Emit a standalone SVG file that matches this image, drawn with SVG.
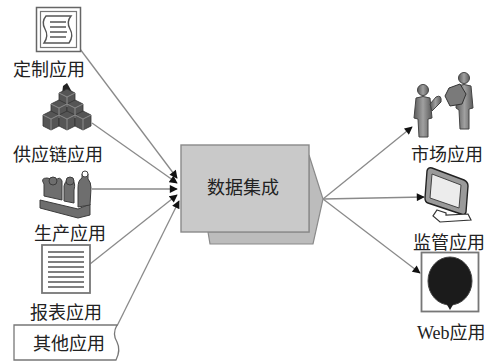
<svg xmlns="http://www.w3.org/2000/svg" width="502" height="364" viewBox="0 0 502 364">
  <defs>
    <style>
      .lbl { font-family: "Liberation Serif", "Noto Sans CJK SC", serif; font-size: 18px; fill: #222; }
      .link { stroke: #8a8a8a; stroke-width: 1.3; fill: none; marker-end: url(#head); }
      .gray { fill: #6e6e6e; stroke: #3c3c3c; stroke-width: 1; }
      .cube-side { fill: #555; stroke: #333; stroke-width: 0.8; }
      .fig { fill: url(#figure); stroke: #444; stroke-width: 1; }
    </style>
    <marker id="head" viewBox="0 0 10 10" refX="9" refY="5" markerWidth="9" markerHeight="8" markerUnits="userSpaceOnUse" orient="auto">
      <path d="M0,0 L10,5 L0,10 Z" fill="#111"/>
    </marker>
    <linearGradient id="figure" x1="0" y1="0" x2="1" y2="0">
      <stop offset="0" stop-color="#5a5a5a"/>
      <stop offset="0.5" stop-color="#a0a0a0"/>
      <stop offset="1" stop-color="#5a5a5a"/>
    </linearGradient>
  </defs>

  <rect width="502" height="364" fill="#ffffff"/>

  <!-- connectors -->
  <g id="connectors">
    <line class="link" x1="80" y1="49" x2="177" y2="178"/>
    <line class="link" x1="92" y1="123" x2="177" y2="183"/>
    <line class="link" x1="92" y1="189" x2="177" y2="189"/>
    <line class="link" x1="90" y1="264" x2="177" y2="195"/>
    <line class="link" x1="117" y1="326" x2="179" y2="201"/>
    <line class="link" x1="323" y1="199" x2="412" y2="127"/>
    <line class="link" x1="323" y1="199" x2="424" y2="197"/>
    <line class="link" x1="323" y1="199" x2="420" y2="273"/>
  </g>

  <!-- central hub -->
  <g id="integration">
    <path d="M208,232 L210,244 L313,244 L323,199 L309,155 L309,232 Z" fill="#bcbcbc" stroke="#8a8a8a" stroke-width="1.2"/>
    <rect x="181" y="145" width="128" height="87" fill="#c9c9c9" stroke="#8a8a8a" stroke-width="1.4"/>
    <text class="lbl" x="243" y="194" text-anchor="middle">数据集成</text>
  </g>

  <!-- custom application -->
  <g id="custom-app">
    <rect x="36.5" y="7.5" width="44" height="44" fill="#fff" stroke="#666" stroke-width="1.5"/>
    <rect x="40.5" y="11.5" width="36" height="36" fill="#fff" stroke="#777" stroke-width="1.2"/>
    <path d="M46,16 L71,16 Q66,22 70,29 Q74,36 69,43 L44,43 Q49,36 45,29 Q41,22 46,16 Z" fill="#fff" stroke="#555" stroke-width="1.4"/>
    <g stroke="#555" stroke-width="1.5">
      <line x1="50" y1="22" x2="66" y2="22"/>
      <line x1="50" y1="27" x2="66" y2="27"/>
      <line x1="50" y1="32" x2="67" y2="32"/>
      <line x1="50" y1="37" x2="66" y2="37"/>
    </g>
    <text class="lbl" x="13" y="76">定制应用</text>
  </g>

  <!-- supply chain application -->
  <g id="supply-chain-app">
    <path d="M63,86 L67,83 L72,92 L62,94 Z" fill="#222"/>
    <g>
      <path class="cube-side" d="M59,93 L67,89 L75,93 L75,103 L67,107 L59,103 Z"/>
      <path class="cube-side" d="M51,104 L59,100 L67,104 L67,114 L59,118 L51,114 Z"/>
      <path class="cube-side" d="M67,104 L75,100 L83,104 L83,114 L75,118 L67,114 Z"/>
      <path class="cube-side" d="M43,115 L51,111 L59,115 L59,126 L51,130 L43,126 Z"/>
      <path class="cube-side" d="M59,115 L67,111 L75,115 L75,126 L67,130 L59,126 Z"/>
      <path class="cube-side" d="M75,115 L83,111 L91,115 L91,126 L83,130 L75,126 Z"/>
    </g>
    <g fill="none" stroke="#999" stroke-width="0.8">
      <path d="M59,93 L67,97 L75,93 M67,97 L67,107"/>
      <path d="M51,104 L59,108 L67,104 M59,108 L59,118"/>
      <path d="M67,104 L75,108 L83,104 M75,108 L75,118"/>
      <path d="M43,115 L51,119 L59,115 M51,119 L51,130"/>
      <path d="M59,115 L67,119 L75,115 M67,119 L67,130"/>
      <path d="M75,115 L83,119 L91,115 M83,119 L83,130"/>
    </g>
    <text class="lbl" x="13" y="161">供应链应用</text>
  </g>

  <!-- production application -->
  <g id="production-app">
    <path class="gray" d="M40,200 L78,209 L90,204 L90,215 L78,218 L40,208 Z"/>
    <path class="gray" d="M44,184 Q40,178 47,178 L56,180 Q60,176 62,181 L62,200 L44,196 Z"/>
    <circle class="gray" cx="53" cy="181" r="4"/>
    <path class="gray" d="M64,186 Q66,178 72,180 Q76,182 74,190 L74,203 L64,201 Z"/>
    <circle class="gray" cx="70" cy="181" r="4"/>
    <path class="gray" d="M78,188 Q78,180 82,178 L82,174 Q85,170 88,174 L88,179 Q91,182 91,188 L90,205 L78,207 Z"/>
    <circle cx="85" cy="174" r="3" fill="#fff" stroke="#444"/>
    <text class="lbl" x="34" y="240">生产应用</text>
  </g>

  <!-- report application -->
  <g id="report-app">
    <rect x="42" y="245" width="48" height="48" fill="#fff" stroke="#777" stroke-width="1.8"/>
    <g stroke="#555" stroke-width="1.5">
      <line x1="48" y1="252" x2="84" y2="252"/>
      <line x1="48" y1="257" x2="84" y2="257"/>
      <line x1="48" y1="262" x2="84" y2="262"/>
      <line x1="48" y1="267" x2="84" y2="267"/>
      <line x1="48" y1="272" x2="84" y2="272"/>
      <line x1="48" y1="277" x2="84" y2="277"/>
      <line x1="48" y1="282" x2="84" y2="282"/>
      <line x1="48" y1="287" x2="84" y2="287"/>
    </g>
    <text class="lbl" x="30" y="319">报表应用</text>
  </g>

  <!-- other applications -->
  <g id="other-app">
    <path d="M14,325 L117,325 Q112,334 117,342 Q121,350 116,360 L14,360 Z" fill="#fff" stroke="#777" stroke-width="1.3"/>
    <text class="lbl" x="33" y="350">其他应用</text>
  </g>

  <!-- market application -->
  <g id="market-app">
    <circle class="fig" cx="423" cy="90" r="5.5"/>
    <path class="fig" d="M416,98 Q423,95 430,98 L432,118 L428,119 L428,137 L419,137 L418,119 L414,118 Z"/>
    <path class="fig" d="M430,104 L436,97 Q442,94 441,102 L432,111 Z"/>
    <circle class="fig" cx="464" cy="78" r="5.5"/>
    <path class="fig" d="M457,86 Q464,83 471,86 L473,108 L469,109 L469,129 L460,129 L459,110 L456,108 Z"/>
    <path d="M449,88 L460,84 L466,94 L462,104 L450,106 L445,96 Z" fill="#7a7a7a" stroke="#333"/>
    <text class="lbl" x="411" y="161">市场应用</text>
  </g>

  <!-- supervision application -->
  <g id="supervision-app">
    <path d="M432,168 L464,180 Q468,182 468,186 L466,212 Q465,216 461,214 L428,203 Q425,202 425,198 L427,171 Q428,167 432,168 Z" fill="#9a9a9a" stroke="#222" stroke-width="1.4"/>
    <path d="M432,174 L461,185 L459,208 L430,198 Z" fill="#ececec" stroke="#444" stroke-width="1"/>
    <path d="M437,210 L446,213 L446,215 L468,214 L471,220 L440,222 L433,216 Z" fill="#fff" stroke="#333" stroke-width="1.2"/>
    <text class="lbl" x="413" y="249">监管应用</text>
  </g>

  <!-- web application -->
  <g id="web-app">
    <rect x="421.5" y="252.5" width="57" height="59" fill="#fff" stroke="#777" stroke-width="1.8"/>
    <ellipse cx="450" cy="281" rx="22" ry="24" fill="#1b1b1b" stroke="#444"/>
    <path d="M446,303 L450,310 L454,303 Z" fill="#1b1b1b"/>
    <text class="lbl" x="417" y="339">Web应用</text>
  </g>
</svg>
